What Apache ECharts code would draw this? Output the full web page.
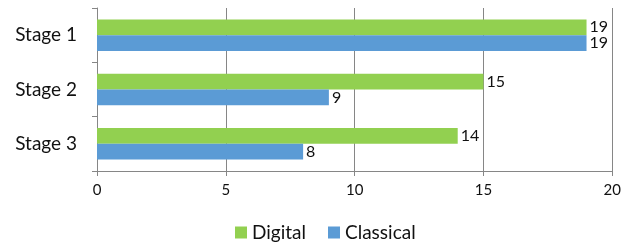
<!DOCTYPE html>
<html>
<head>
<meta charset="utf-8">
<script src="https://cdn.jsdelivr.net/npm/echarts@6/dist/echarts.min.js"></script>
<style>
  html, body { margin: 0; padding: 0; background: #fff; }
  #chart { width: 624px; height: 247px; }
</style>
</head>
<body>
<div id="chart"></div>
<script>
// chart data
const stages = ['Stage 1', 'Stage 2', 'Stage 3'];
const digital = [19, 15, 14];
const classical = [19, 9, 8];
const seriesNames = ['Digital', 'Classical'];

const font = 'Lato, "Open Sans", sans-serif';
const chart = echarts.init(document.getElementById('chart'));

chart.setOption({
  animation: false,
  textStyle: { fontFamily: font },
  grid: { left: 97, right: 11, top: 8, bottom: 76 },
  legend: {
    data: seriesNames,
    bottom: 0,
    left: 230,
    itemWidth: 12,
    itemHeight: 12,
    itemGap: 22,
    icon: 'rect',
    textStyle: { fontSize: 19, color: '#111', fontFamily: font }
  },
  xAxis: {
    type: 'value',
    min: 0,
    max: 20,
    interval: 5,
    axisLine: { show: true, lineStyle: { color: '#868686' } },
    axisTick: { show: true, length: 5, lineStyle: { color: '#868686' } },
    axisLabel: { fontSize: 15, color: '#111', margin: 12, fontFamily: font },
    splitLine: { show: true, lineStyle: { color: '#868686' } }
  },
  yAxis: {
    type: 'category',
    data: stages,
    inverse: true,
    axisLine: { show: true, lineStyle: { color: '#868686' } },
    axisTick: { show: true, length: 5, lineStyle: { color: '#868686' } },
    axisLabel: { fontSize: 19, color: '#111', margin: 20, fontFamily: font }
  },
  series: [
    {
      name: seriesNames[0],
      type: 'bar',
      data: digital,
      barGap: '0%',
      barCategoryGap: '42%',
      itemStyle: { color: '#92D050' },
      label: { show: true, position: 'right', distance: 3, fontSize: 16, color: '#111', fontFamily: font }
    },
    {
      name: seriesNames[1],
      type: 'bar',
      data: classical,
      barGap: '0%',
      barCategoryGap: '42%',
      itemStyle: { color: '#5B9BD5' },
      label: { show: true, position: 'right', distance: 3, fontSize: 16, color: '#111', fontFamily: font }
    }
  ]
});
</script>
</body>
</html>
